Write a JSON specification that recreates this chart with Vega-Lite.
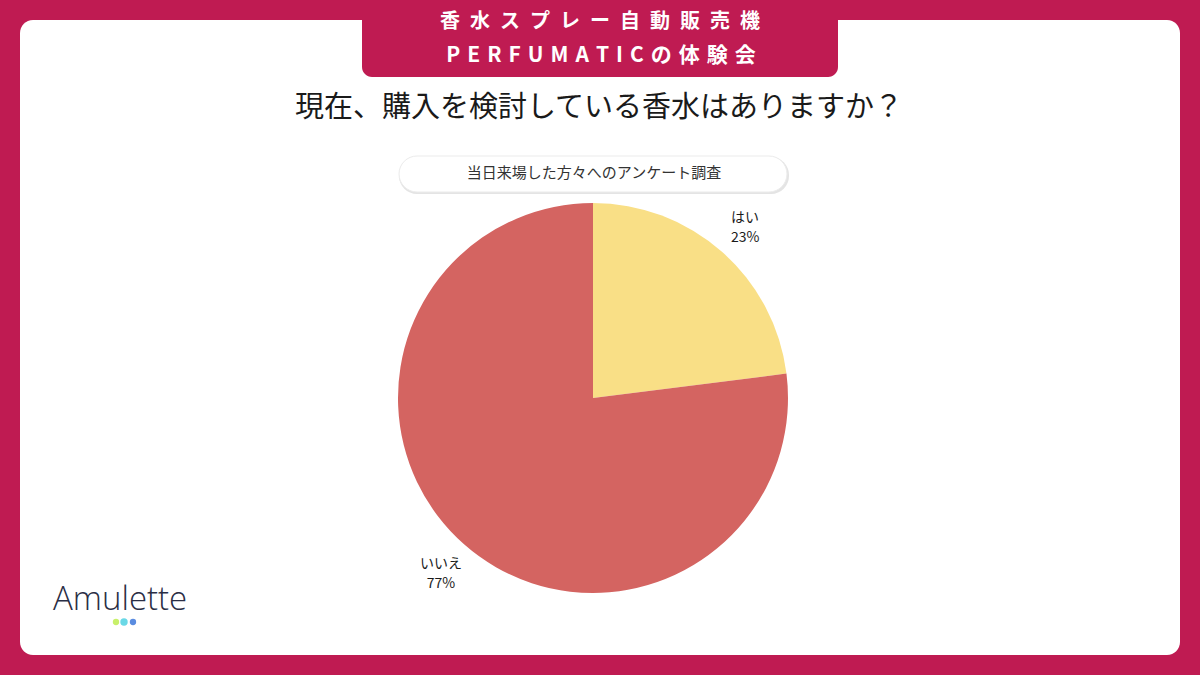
{
  "$schema": "https://vega.github.io/schema/vega-lite/v6.json",
  "width": 1200,
  "height": 675,
  "autosize": {"type": "fit", "contains": "padding"},
  "padding": 0,
  "background": "#BF1B52",
  "config": {"view": {"stroke": null}, "font": "Noto Sans CJK JP"},
  "data": {"values": [
    {"category": "はい", "value": 0.23},
    {"category": "いいえ", "value": 0.77}
  ]},
  "layer": [
    {
      "data": {"values": [{}]},
      "mark": {"type": "rect", "color": "#FFFFFF", "cornerRadius": 13},
      "encoding": {
        "x": {"datum": 20, "type": "quantitative", "scale": {"domain": [0, 1200], "nice": false, "zero": false}, "axis": null},
        "x2": {"datum": 1180},
        "y": {"datum": 20, "type": "quantitative", "scale": {"domain": [0, 675], "nice": false, "zero": false, "reverse": true}, "axis": null},
        "y2": {"datum": 655}
      }
    },
    {
      "data": {"values": [{}]},
      "mark": {"type": "rect", "color": "#BF1B52", "cornerRadiusBottomLeft": 10, "cornerRadiusBottomRight": 10},
      "encoding": {
        "x": {"datum": 362, "type": "quantitative"},
        "x2": {"datum": 838},
        "y": {"datum": 0, "type": "quantitative"},
        "y2": {"datum": 77}
      }
    },
    {
      "data": {"values": [{}]},
      "mark": {"type": "text", "color": "#FFFFFF", "fontSize": 20, "fontWeight": "bold", "baseline": "middle", "align": "center"},
      "encoding": {
        "x": {"datum": 600, "type": "quantitative"},
        "y": {"datum": 22, "type": "quantitative"},
        "text": {"value": "香\u2002水\u2002ス\u2002プ\u2002レ\u2002ー\u2002自\u2002動\u2002販\u2002売\u2002機"}
      }
    },
    {
      "data": {"values": [{}]},
      "mark": {"type": "text", "color": "#FFFFFF", "fontSize": 21, "fontWeight": "bold", "baseline": "middle", "align": "center"},
      "encoding": {
        "x": {"datum": 601, "type": "quantitative"},
        "y": {"datum": 56, "type": "quantitative"},
        "text": {"value": "P\u2004E\u2004R\u2004F\u2004U\u2004M\u2004A\u2004T\u2004I\u2004C\u2004の\u2004体\u2004験\u2004会"}
      }
    },
    {
      "data": {"values": [{}]},
      "mark": {"type": "text", "color": "#1A1A1A", "fontSize": 29, "fontWeight": 400, "baseline": "middle", "align": "center"},
      "encoding": {
        "x": {"datum": 599, "type": "quantitative"},
        "y": {"datum": 108, "type": "quantitative"},
        "text": {"value": "現在、購入を検討している香水はありますか？"}
      }
    },
    {
      "data": {"values": [{}]},
      "mark": {"type": "rect", "color": "#E4E4E4", "cornerRadius": 18},
      "encoding": {
        "x": {"datum": 399, "type": "quantitative"},
        "x2": {"datum": 789},
        "y": {"datum": 157, "type": "quantitative"},
        "y2": {"datum": 194}
      }
    },
    {
      "data": {"values": [{}]},
      "mark": {"type": "rect", "color": "#FFFFFF", "stroke": "#EBEBEB", "strokeWidth": 1, "cornerRadius": 18},
      "encoding": {
        "x": {"datum": 399, "type": "quantitative"},
        "x2": {"datum": 787},
        "y": {"datum": 156, "type": "quantitative"},
        "y2": {"datum": 192}
      }
    },
    {
      "data": {"values": [{}]},
      "mark": {"type": "text", "color": "#333333", "fontSize": 15, "baseline": "middle", "align": "center"},
      "encoding": {
        "x": {"datum": 594, "type": "quantitative"},
        "y": {"datum": 173, "type": "quantitative"},
        "text": {"value": "当日来場した方々へのアンケート調査"}
      }
    },
    {
      "mark": {"type": "arc", "outerRadius": 195},
      "encoding": {
        "x": {"datum": 593, "type": "quantitative"},
        "y": {"datum": 398, "type": "quantitative"},
        "theta": {"field": "value", "type": "quantitative", "stack": true},
        "order": {"field": "category", "sort": "descending"},
        "color": {"field": "category", "type": "nominal", "scale": {"domain": ["はい", "いいえ"], "range": ["#F9DF86", "#D46461"]}, "legend": null}
      }
    },
    {
      "mark": {"type": "text", "color": "#1A1A1A", "fontSize": 14, "baseline": "middle", "align": "center", "radius": 230, "dy": -7},
      "encoding": {
        "x": {"datum": 593, "type": "quantitative"},
        "y": {"datum": 398, "type": "quantitative"},
        "theta": {"field": "value", "type": "quantitative", "stack": true},
        "order": {"field": "category", "sort": "descending"},
        "text": {"field": "category"}
      }
    },
    {
      "mark": {"type": "text", "color": "#1A1A1A", "fontSize": 14, "baseline": "middle", "align": "center", "radius": 230, "dy": 13},
      "encoding": {
        "x": {"datum": 593, "type": "quantitative"},
        "y": {"datum": 398, "type": "quantitative"},
        "theta": {"field": "value", "type": "quantitative", "stack": true},
        "order": {"field": "category", "sort": "descending"},
        "text": {"field": "value", "type": "quantitative", "format": ".0%"}
      }
    },
    {
      "data": {"values": [{}]},
      "mark": {"type": "text", "color": "#2A2E45", "fontSize": 33, "font": "Open Sans", "fontWeight": 300, "baseline": "middle", "align": "left"},
      "encoding": {
        "x": {"datum": 53, "type": "quantitative"},
        "y": {"datum": 600, "type": "quantitative"},
        "text": {"value": "Amulette"}
      }
    },
    {
      "data": {"values": [{}]},
      "mark": {"type": "point", "filled": true, "color": "#C8F06A", "size": 40, "opacity": 1},
      "encoding": {"x": {"datum": 116, "type": "quantitative"}, "y": {"datum": 622, "type": "quantitative"}}
    },
    {
      "data": {"values": [{}]},
      "mark": {"type": "point", "filled": true, "color": "#6AD8E6", "size": 55, "opacity": 1},
      "encoding": {"x": {"datum": 124, "type": "quantitative"}, "y": {"datum": 622, "type": "quantitative"}}
    },
    {
      "data": {"values": [{}]},
      "mark": {"type": "point", "filled": true, "color": "#5A8CE0", "size": 40, "opacity": 1},
      "encoding": {"x": {"datum": 133, "type": "quantitative"}, "y": {"datum": 622, "type": "quantitative"}}
    }
  ]
}
